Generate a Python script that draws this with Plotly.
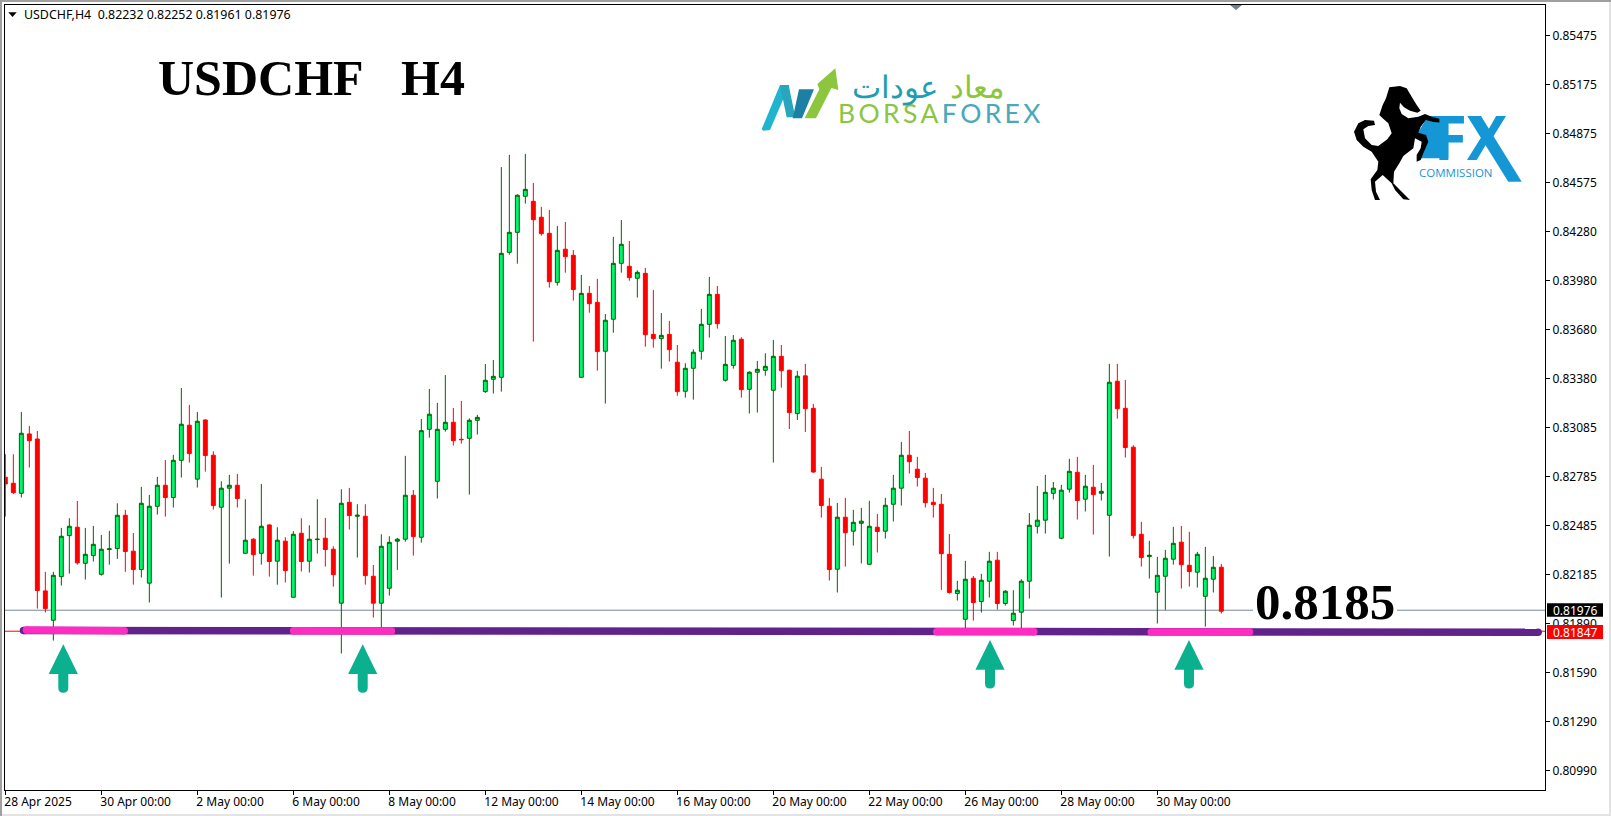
import plotly.graph_objects as go

W, H = 1611, 816
L_PX, R_PX, T_PX, B_PX = 5, 1545, 5, 790

# candle values in 1/100000 of a price unit
opens = [82781,82744,82683,83045,83014,82088,81909,82175,82425,82476,82256,82303,82189,82340,82346,82549,82330,82218,82135,82604,
82732,82657,82884,83098,82769,83130,82915,82598,82714,82732,82317,82403,82317,82490,82269,82391,82049,82439,82269,82401,
82409,82342,82013,82628,82543,82543,82177,82013,82104,82391,82403,82671,82415,83073,82756,83073,83116,83012,83018,83128,
83303,83378,83390,84152,84274,84494,84463,84366,84268,83969,84171,84134,83390,83902,83847,83549,83744,84085,84067,83994,
84024,83652,83626,83652,83482,83305,83445,83549,83713,83896,83372,83463,83622,83317,83421,83433,83311,83518,83433,83169,
83399,83201,82769,82604,82220,82537,82452,82500,82250,82476,82452,82616,82714,82915,82830,82775,82628,82616,82311,82072,
81915,82165,82023,82147,82275,82011,81907,81958,82147,82482,82519,82683,82409,82708,82811,82647,82720,82683,82549,83366,
83201,82964,82433,82297,82080,82177,82281,82385,82244,82202,82055,82159,82232]
highs = [82921,82921,83179,83094,83063,82204,82204,82472,82531,82636,82472,82484,82429,82454,82622,82582,82441,82722,82673,82783,
82886,82917,83325,83222,83179,83134,82939,82756,82795,82801,82647,82409,82740,82494,82476,82415,82452,82531,82488,82647,
82533,82360,82708,82716,82616,82616,82246,82433,82421,82411,82911,82703,83136,83319,83234,83404,83203,83246,83140,83161,
83471,83496,84672,84746,84506,84752,84575,84429,84410,84313,84337,84166,84014,83947,83990,83776,84246,84349,84221,84042,
84057,83923,83782,83734,83587,83476,83561,83807,84002,83947,83642,83648,83634,83427,83490,83537,83618,83587,83437,83429,
83472,83228,82844,82655,82624,82655,82582,82594,82637,82557,82655,82795,82996,83063,82905,82807,82716,82679,82435,82149,
82271,82179,82192,82326,82326,82092,82092,82159,82563,82728,82795,82752,82734,82893,82905,82795,82856,82746,83472,83472,
83374,82976,82509,82393,82295,82338,82478,82484,82448,82326,82356,82301,82252]
lows = [82541,82679,82657,82840,81980,81956,81785,82120,82193,82248,82157,82267,82181,82248,82283,82204,82126,82169,82017,82553,
82541,82596,82779,82870,82718,82815,82584,82047,82254,82596,82317,82181,82248,82175,82126,82139,82049,82206,82200,82315,
82236,82114,81706,82462,82291,82126,81925,81866,82059,82216,82388,82303,82382,83022,82651,83059,82974,82986,82675,83041,
83295,83291,83303,84138,84083,84449,83608,84254,83937,83949,84028,83858,83390,83784,83431,83230,83662,84028,83979,83876,
83577,83571,83443,83486,83278,83266,83254,83498,83632,83687,83364,83443,83266,83169,83175,83400,82870,83327,83075,83130,
83057,82807,82535,82151,82078,82236,82364,82255,82250,82322,82407,82511,82608,82803,82724,82596,82535,82094,82072,82029,
81860,81907,81956,82047,81974,81998,81877,81860,82041,82437,82437,82645,82403,82687,82523,82572,82431,82639,82297,83138,
82901,82407,82236,82163,81889,81972,82248,82102,82114,82108,81870,82078,81950]
closes = [82740,82687,83049,83004,82090,81980,82183,82421,82482,82259,82311,82372,82342,82344,82549,82328,82218,82622,82604,82732,
82657,82884,83104,82925,83122,82913,82608,82714,82732,82651,82397,82309,82482,82267,82397,82212,82433,82267,82403,82403,
82340,82187,82622,82547,82549,82181,82013,82360,82384,82403,82671,82419,83065,83165,83073,83116,83004,83010,83128,83146,
83372,83396,84146,84274,84500,84536,84351,84266,83973,84164,84126,83925,83902,83839,83547,83738,84085,84201,83998,84030,
83650,83626,83646,83559,83303,83445,83543,83713,83896,83717,83469,83616,83315,83421,83439,83457,83518,83431,83175,83397,
83199,82813,82608,82218,82537,82443,82506,82513,82482,82450,82610,82714,82915,82876,82779,82626,82614,82315,82078,82092,
82159,82017,82153,82269,82011,82086,81952,82147,82488,82519,82689,82714,82702,82817,82639,82726,82675,82695,83360,83199,
82962,82425,82291,82305,82183,82287,82378,82248,82206,82311,82165,82232,81964]
SCALE = 100000.0

date_tick_index = [0, 12, 24, 36, 48, 60, 72, 84, 96, 108, 120, 132, 144]
date_tick_labels = ["28 Apr 2025", "30 Apr 00:00", "2 May 00:00", "6 May 00:00", "8 May 00:00", "12 May 00:00",
                    "14 May 00:00", "16 May 00:00", "20 May 00:00", "22 May 00:00", "26 May 00:00", "28 May 00:00", "30 May 00:00"]
price_ticks = [0.85475, 0.85175, 0.84875, 0.84575, 0.84280, 0.83980, 0.83680, 0.83380, 0.83085,
               0.82785, 0.82485, 0.82185, 0.81890, 0.81590, 0.81290, 0.80990]
price_tick_labels = [f"{v:.5f}" for v in price_ticks]

last_price_line = 0.81970
red_level_line = 0.81842
support_x = [2.27, 191.6]
support_y = [0.81847, 0.81836]
touch_zones_x = [[2.64, 14.86], [36.04, 48.26], [116.44, 128.56], [143.24, 155.52]]
touch_zones_y = [[0.81850, 0.81845], [0.81845, 0.81843], [0.81839, 0.81839], [0.81838, 0.81837]]
header = "USDCHF,H4\u00a0\u00a00.82232\u00a00.82252\u00a00.81961\u00a00.81976"

RED = "#FF0000"
DGREEN = "#006400"
LGREEN = "#00F56A"
TEAL = "#0BB08F"
BLUE = "#1597D5"
LIME = "#8CC63F"
UI_FONT = "Noto Sans"


def px(x):
    return (x - L_PX) / (R_PX - L_PX)


def py(y):
    return (B_PX - y) / (B_PX - T_PX)


def poly(points, color, layer="above", line=None):
    d = "M " + " L ".join(f"{px(x):.5f},{py(y):.5f}" for x, y in points) + " Z"
    return dict(type="path", xref="paper", yref="paper", path=d, fillcolor=color,
                line=dict(color=line or color, width=0 if line is None else 1), layer=layer)


def rect(x0, y0, x1, y1, fill=None, line=None, width=1, layer="above"):
    return dict(type="rect", xref="paper", yref="paper", x0=px(x0), x1=px(x1), y0=py(y0), y1=py(y1),
                fillcolor=fill or "rgba(0,0,0,0)", line=dict(color=line or "rgba(0,0,0,0)", width=width if line else 0),
                layer=layer)


def text(x, y, s, size, color="#000000", family=UI_FONT, anchor="center", bg=None):
    return dict(xref="paper", yref="paper", x=px(x), y=py(y), text=s, showarrow=False,
                font=dict(size=size, color=color, family=family), xanchor=anchor, yanchor="middle",
                bgcolor=bg, borderpad=0, align="left")


def arrow(cx, tip):
    d = (f"M {px(cx):.5f},{py(tip):.5f} L {px(cx+14.6):.5f},{py(tip+29.7):.5f} L {px(cx+5):.5f},{py(tip+29.7):.5f} "
         f"L {px(cx+5):.5f},{py(tip+43.4):.5f} Q {px(cx+5):.5f},{py(tip+48.4):.5f} {px(cx):.5f},{py(tip+48.4):.5f} "
         f"Q {px(cx-5):.5f},{py(tip+48.4):.5f} {px(cx-5):.5f},{py(tip+43.4):.5f} L {px(cx-5):.5f},{py(tip+29.7):.5f} "
         f"L {px(cx-14.6):.5f},{py(tip+29.7):.5f} Z")
    return dict(type="path", xref="paper", yref="paper", path=d, fillcolor=TEAL, line=dict(width=0), layer="above")


candle_index = list(range(len(opens)))
fig = go.Figure()
fig.add_trace(go.Candlestick(
    x=candle_index,
    open=[v / SCALE for v in opens], high=[v / SCALE for v in highs],
    low=[v / SCALE for v in lows], close=[v / SCALE for v in closes],
    increasing=dict(line=dict(color=DGREEN, width=1), fillcolor=LGREEN),
    decreasing=dict(line=dict(color=RED, width=1), fillcolor=RED),
    whiskerwidth=0, hoverinfo="skip", showlegend=False))
fig.add_trace(go.Scatter(x=support_x, y=support_y, mode="lines+markers",
                         line=dict(color="#62228B", width=7.5), marker=dict(color="#62228B", size=7.5),
                         hoverinfo="skip", showlegend=False))
for zx, zy in zip(touch_zones_x, touch_zones_y):
    fig.add_trace(go.Scatter(x=zx, y=zy, mode="lines+markers",
                             line=dict(color="#FF2CC4", width=7.5), marker=dict(color="#FF2CC4", size=7.5),
                             hoverinfo="skip", showlegend=False))

# shapes -----------------------------------------------------------------
shapes = []
shapes.append(dict(type="line", xref="paper", yref="y", x0=0, x1=1, y0=last_price_line, y1=last_price_line,
                   line=dict(color="#778899", width=1), layer="below"))
shapes.append(dict(type="line", xref="paper", yref="y", x0=0, x1=1, y0=red_level_line, y1=red_level_line,
                   line=dict(color=RED, width=1), layer="below"))
# window border
shapes.append(rect(1609, 0, 1611, 816, fill="#E3E3E3"))
shapes.append(rect(0, 814, 1611, 816, fill="#E3E3E3"))
shapes.append(rect(0, 0, 2, 816, fill="#A0A0A0"))
shapes.append(rect(0, 0, 1611, 2, fill="#A0A0A0"))
# header triangle and top caret
shapes.append(poly([(8.3, 12.3), (16.7, 12.3), (12.5, 17)], "#000000"))
shapes.append(poly([(1230, 5), (1242, 5), (1236, 10)], "#708090"))
# white gap behind the level label
shapes.append(rect(1253, 605, 1397, 615, fill="#FFFFFF"))
# price tags
shapes.append(rect(1547, 603.3, 1603, 616.7, fill="#000000"))
shapes.append(rect(1547, 625, 1603, 639, fill=RED))
# arrows
for cx, tip in [(63.3, 644.3), (362.7, 644.3), (990, 640), (1189, 640)]:
    shapes.append(arrow(cx, tip))


# Borsa logo, outline from zoom (x0=730, y0=60, 3x)
def z6(pts):
    return [(730 + x / 3, 60 + y / 3) for x, y in pts]


shapes.append(poly(z6([(95, 208), (150, 75), (178, 75), (120, 210), (100, 212)]), "#20B4CE"))
shapes.append(poly(z6([(150, 75), (176, 75), (196, 172), (170, 172)]), "#27A6BE"))
shapes.append(poly(z6([(207, 88), (252, 88), (216, 175), (188, 175)]), "#1B80A4"))
shapes.append(poly(z6([(224, 175), (268, 88), (262, 72), (316, 25), (325, 90), (304, 84), (258, 175)]), LIME))


# FX logo and horse, outline from zoom (x0=1300, y0=70, 3x)
def z7(pts):
    return [(1300 + x / 3, 70 + y / 3) for x, y in pts]


shapes.append(poly(z7([(385, 138), (445, 138), (445, 265), (362, 265), (380, 205), (352, 190)]), BLUE))
# long stroke of the X
shapes.append(poly([(1467.3, 116), (1481, 116), (1521.7, 181.7), (1508.3, 181.7)], BLUE))
horse = [(268, 52), (300, 48), (320, 55), (335, 80), (350, 105), (362, 122), (352, 128), (330, 122), (312, 112),
         (300, 98), (298, 115), (305, 132), (325, 145), (355, 140), (375, 132), (395, 140), (432, 150), (428, 158),
         (400, 156), (378, 150), (362, 170), (355, 188), (378, 195), (385, 215), (370, 250), (362, 270), (350, 275),
         (350, 255), (362, 235), (365, 215), (345, 205), (340, 235), (310, 258), (298, 280), (282, 305), (280, 340),
         (300, 360), (330, 390), (310, 388), (285, 360), (275, 340), (248, 315), (225, 335), (228, 365), (240, 390),
         (225, 390), (215, 360), (212, 328), (232, 300), (235, 275), (215, 245), (190, 230), (170, 210), (162, 185),
         (175, 160), (195, 150), (222, 152), (225, 165), (205, 168), (190, 178), (195, 205), (215, 225), (235, 228),
         (262, 208), (275, 190), (265, 160), (248, 145), (238, 135), (248, 105), (258, 85)]
shapes.append(poly(z7(horse), "#000000"))

# annotations --------------------------------------------------------------
SERIF = "Liberation Serif"
spaced = "\u2009".join
anns = [
    text(23, 15, header, 12.4, anchor="left"),
    text(311, 78, "<b>USDCHF\u00a0\u00a0\u00a0H4</b>", 50, family=SERIF),
    text(1325, 602, "<b>0.8185</b>", 51, family=SERIF),
    text(1575, 610, "0.81976", 12, color="#FFFFFF"),
    text(1575, 632, "0.81847", 12, color="#FFFFFF"),
    text(939, 113,
         f'<span style="color:{LIME}">{spaced("BORSA")}</span>\u2009<span style="color:#4AA8B8">{spaced("FOREX")}</span>',
         26.5, family="Lato"),
    text(895, 86, "عودات", 31, color="#1E9EB0"),
    text(977, 86, "معاد", 31, color=LIME),
    text(1433, 137, "<b>F</b>", 60, color=BLUE, family="Open Sans", anchor="left"),
    text(1487.5, 137, "<b>X</b>", 60, color=BLUE, family="Open Sans"),
    text(1456, 173, "COMMISSION", 11.5, color=BLUE, family="Open Sans"),
]

fig.update_layout(
    width=W, height=H, autosize=False,
    margin=dict(l=L_PX, r=W - R_PX, t=T_PX, b=H - B_PX, pad=0),
    paper_bgcolor="#FFFFFF", plot_bgcolor="#FFFFFF",
    showlegend=False, shapes=shapes, annotations=anns, hovermode=False,
    font=dict(family=UI_FONT, size=12, color="#000000"),
    xaxis=dict(range=[(L_PX - 5.33) / 8, (R_PX - 5.33) / 8], tickmode="array",
               tickvals=date_tick_index, ticktext=date_tick_labels,
               ticks="outside", ticklen=4, tickwidth=1, tickcolor="#000000",
               ticklabelposition="outside right", tickangle=0, ticklabelshift=-2, ticklabelstandoff=1,
               tickfont=dict(family=UI_FONT, size=12, color="#000000"),
               showgrid=False, zeroline=False, showline=True, linecolor="#000000", linewidth=1, mirror=True,
               rangeslider=dict(visible=False), fixedrange=True),
    yaxis=dict(range=[0.80874, 0.85660], side="right", tickmode="array",
               tickvals=price_ticks, ticktext=price_tick_labels,
               ticks="outside", ticklen=4, tickwidth=1, tickcolor="#000000",
               tickfont=dict(family=UI_FONT, size=12, color="#000000"),
               showgrid=False, zeroline=False, showline=True, linecolor="#000000", linewidth=1, mirror=True,
               fixedrange=True),
)

fig.write_html("out.html", config=dict(displayModeBar=False, staticPlot=True),
               post_script="document.body.style.margin='0';document.body.style.overflow='hidden';")
